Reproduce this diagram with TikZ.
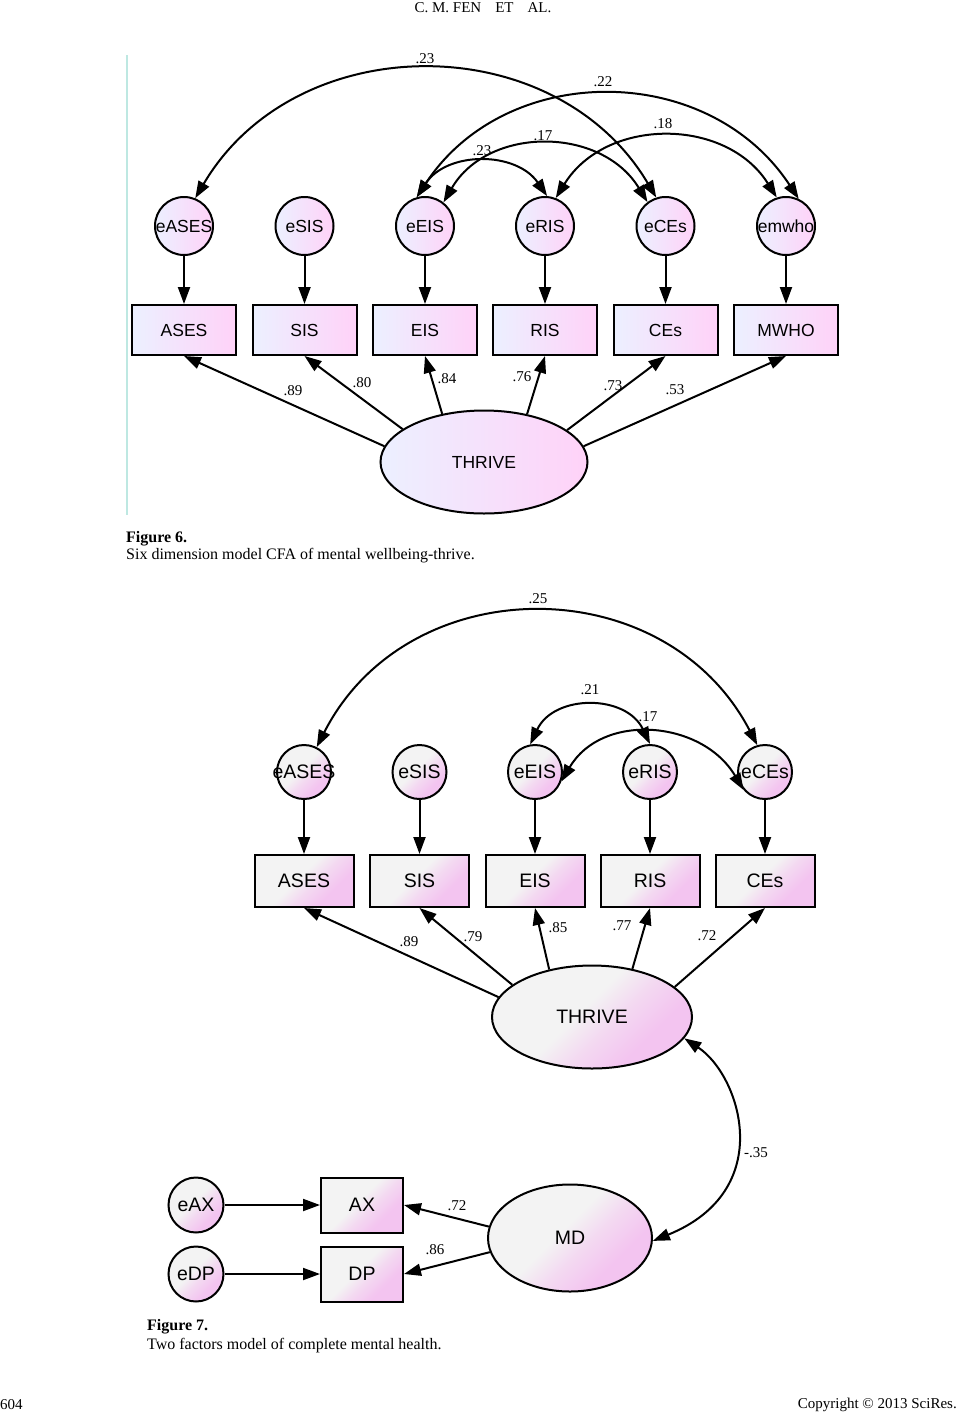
\documentclass[tikz,border=0pt]{standalone}
\usepackage{fontspec}
\setmainfont{Liberation Serif}
\newfontfamily\arialf{Liberation Sans}
\usetikzlibrary{arrows.meta,shapes.geometric}
\definecolor{sixL}{RGB}{236,240,255}
\definecolor{sixR}{RGB}{255,210,248}
\definecolor{sevG}{RGB}{243,243,243}
\definecolor{sevP}{RGB}{243,196,240}
\definecolor{rulecol}{RGB}{190,232,226}
\pgfdeclareverticalshading{sevshade}{100bp}{color(0bp)=(sevP); color(32bp)=(sevP); color(44bp)=(sevG!45!sevP); color(54bp)=(sevG); color(100bp)=(sevG)}
\tikzset{
  lin/.style={line width=2pt, draw=black},
  arr/.style={lin, -{Triangle[length=17pt,width=12pt]}},
  dbl/.style={lin, {Triangle[length=17pt,width=12pt]}-{Triangle[length=17pt,width=12pt]}},
  fsix/.style={left color=sixL, right color=sixR},
  fsev/.style={shading=sevshade, shading angle=45},
  errsix/.style={circle, lin, fsix, minimum size=58pt, inner sep=0pt, font=\arialf\fontsize{17.5}{17.5}\selectfont},
  obssix/.style={rectangle, lin, fsix, minimum width=104pt, minimum height=50pt, inner sep=0pt, font=\arialf\fontsize{17.5}{17.5}\selectfont},
  latsix/.style={ellipse, lin, fsix, minimum width=207pt, minimum height=103pt, inner sep=0pt, font=\arialf\fontsize{17.5}{17.5}\selectfont},
  errsev/.style={circle, lin, fsev, minimum size=54pt, inner sep=0pt, font=\arialf\fontsize{19.5}{19.5}\selectfont},
  obssev/.style={rectangle, lin, fsev, minimum width=99pt, minimum height=52pt, inner sep=0pt, font=\arialf\fontsize{19.5}{19.5}\selectfont},
  latsev/.style={ellipse, lin, fsev, inner sep=0pt, font=\arialf\fontsize{19.5}{19.5}\selectfont},
  coef/.style={font=\fontsize{15}{15}\selectfont, inner sep=0pt},
  captxt/.style={font=\fontsize{16}{16}\selectfont, inner sep=0pt, anchor=west},
  pagetxt/.style={font=\fontsize{15}{15}\selectfont, inner sep=0pt},
}
\begin{document}
\begin{tikzpicture}[x=1pt,y=-1pt]
\useasboundingbox (0,0) rectangle (965,1414);
\fill[white] (0,0) rectangle (965,1414);

% page furniture
\node[pagetxt] (head) at (483,8) {C. M. FEN\hspace{14pt}ET\hspace{14pt}AL.};
\node[pagetxt, anchor=west] (pgno) at (0,1405) {604};
\node[pagetxt, anchor=east] (copy) at (957,1405) {Copyright \textcopyright{} 2013 SciRes.};
\coordinate (ruleA) at (127,55);
\coordinate (ruleB) at (127,515);
\draw[rulecol, line width=2pt] (ruleA) -- (ruleB);

% ================= Figure 6 =================
\foreach \n/\t/\x in {eASES/eASES/184, eSIS/eSIS/304.5, eEIS/eEIS/425, eRIS/eRIS/545, eCEs/eCEs/665.5, emwho/emwho/786}
  \node[errsix] (\n) at (\x,226) {\makebox[0pt]{\t}};
\foreach \n/\t/\x in {ASES/ASES/184, SIS/SIS/304.5, EIS/EIS/425, RIS/RIS/545, CEs/CEs/665.5, MWHO/MWHO/786}
  \node[obssix] (\n) at (\x,330) {\t};
\node[latsix] (THRIVE) at (484,462) {THRIVE};

\foreach \a/\b in {eASES/ASES, eSIS/SIS, eEIS/EIS, eRIS/RIS, eCEs/CEs, emwho/MWHO}
  \draw[arr] (\a) -- (\b);

\draw[arr] (THRIVE.171) -- (ASES.south);
\draw[arr] (THRIVE.158) -- (SIS.south);
\draw[arr] (THRIVE.131) -- (EIS.south);
\draw[arr] (THRIVE.48) -- (RIS.south);
\draw[arr] (THRIVE.21) -- (CEs.south);
\draw[arr] (THRIVE.9) -- (MWHO.south);

\node[coef] (c89) at (293,391) {.89};
\node[coef] (c80) at (362,383) {.80};
\node[coef] (c84) at (447,379) {.84};
\node[coef] (c76) at (522,377) {.76};
\node[coef] (c73) at (613,386) {.73};
\node[coef] (c53) at (675,390) {.53};

% covariances
\draw[dbl] (eASES.68) .. controls (296,27) and (555,27) .. (eCEs.108);
\draw[dbl] (eEIS.106) .. controls (506,61) and (708,61) .. (emwho.65);
\draw[dbl] (eEIS.52) .. controls (488,126) and (601,126) .. (eCEs.127);
\draw[dbl] (eEIS.106) .. controls (447,151) and (516,151) .. (eRIS.86);
\draw[dbl] (eRIS.69) .. controls (606,117) and (726,117) .. (emwho.108);

\node[coef] (k23a) at (425,59) {.23};
\node[coef] (k22) at (603,82) {.22};
\node[coef] (k17) at (543,136) {.17};
\node[coef] (k23b) at (482,151) {.23};
\node[coef] (k18) at (663,124) {.18};

\node[captxt] (f6a) at (126,539) {\textbf{Figure 6.}};
\node[captxt] (f6b) at (126,556) {Six dimension model CFA of mental wellbeing-thrive.};

% ================= Figure 7 =================
\foreach \n/\t/\x in {fASES/eASES/304, fSIS/eSIS/419.5, fEIS/eEIS/535, fRIS/eRIS/650, fCEs/eCEs/765}
  \node[errsev] (\n) at (\x,772) {\makebox[0pt]{\t}};
\foreach \n/\t/\x in {gASES/ASES/304, gSIS/SIS/419.5, gEIS/EIS/535, gRIS/RIS/650, gCEs/CEs/765}
  \node[obssev] (\n) at (\x,881) {\t};
\node[latsev, minimum width=200pt, minimum height=103pt] (THR7) at (592,1017) {THRIVE};
\node[latsev, minimum width=164pt, minimum height=107pt] (MD) at (570,1238) {MD};
\node[errsev, minimum size=55pt] (eAX) at (196,1205) {\makebox[0pt]{eAX}};
\node[errsev, minimum size=55pt] (eDP) at (196,1274) {\makebox[0pt]{eDP}};
\node[obssev, minimum width=82pt, minimum height=55pt] (AX) at (362,1205) {AX};
\node[obssev, minimum width=82pt, minimum height=55pt] (DP) at (362,1274) {DP};

\foreach \a/\b in {fASES/gASES, fSIS/gSIS, fEIS/gEIS, fRIS/gRIS, fCEs/gCEs}
  \draw[arr] (\a) -- (\b);

\draw[arr] (THR7.168) -- (gASES.south);
\draw[arr] (THR7.158) -- (gSIS.south);
\draw[arr] (THR7.132) -- (gEIS.south);
\draw[arr] (THR7.50) -- (gRIS.south);
\draw[arr] (THR7.20) -- (gCEs.south);

\node[coef] (d89) at (409,942) {.89};
\node[coef] (d79) at (473,937) {.79};
\node[coef] (d85) at (558,928) {.85};
\node[coef] (d77) at (622,926) {.77};
\node[coef] (d72) at (707,936) {.72};

\draw[dbl] (fASES.63) .. controls (408,568) and (665,568) .. (fCEs.106);
\draw[dbl] (fEIS.100) .. controls (554,694) and (626,694) .. (fRIS.90);
\draw[dbl] (fEIS.-20) .. controls (602,712) and (702,720) .. (fCEs.220);
\node[coef] (m25) at (538,599) {.25};
\node[coef] (m21) at (590,690) {.21};
\node[coef] (m17) at (648,717) {.17};

\draw[dbl] (THR7.-13) .. controls (740,1075) and (778,1190) .. (MD.-2);
\node[coef, anchor=west] (m35) at (744,1153) {-.35};

\draw[arr] (eAX) -- (AX);
\draw[arr] (eDP) -- (DP);
\draw[arr] (MD.172) -- (AX.east);
\draw[arr] (MD.190) -- (DP.east);
\node[coef] (n72) at (457,1206) {.72};
\node[coef] (n86) at (435,1250) {.86};

\node[captxt] (f7a) at (147,1327) {\textbf{Figure 7.}};
\node[captxt] (f7b) at (147,1346) {Two factors model of complete mental health.};
\end{tikzpicture}
\end{document}
